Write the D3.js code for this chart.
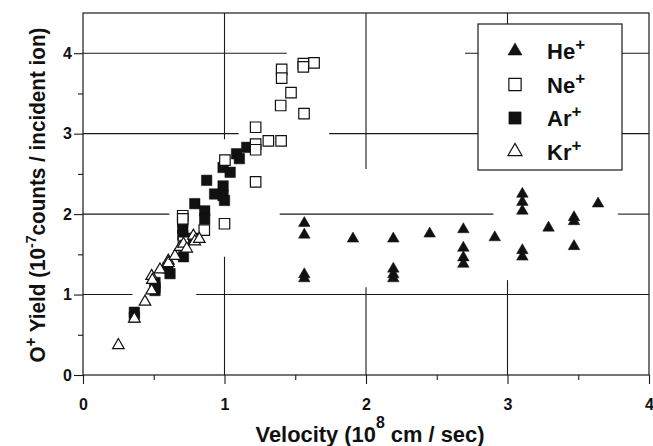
<!DOCTYPE html>
<html>
<head>
<meta charset="utf-8">
<script src="https://cdn.jsdelivr.net/npm/d3@7/dist/d3.min.js"></script>
<style>
body { margin: 0; background: #fff; }
text { font-family: "Liberation Sans Narrow", "Liberation Sans", Arial, sans-serif; font-weight: bold; fill: #111; }
</style>
</head>
<body>
<div id="chart"></div>
<script>
// velocity (10^8 cm/s), O+ yield (10^-7 counts / incident ion)
let heData = [[1.564, 1.887], [1.564, 1.743], [1.564, 1.25], [1.564, 1.20], [1.908, 1.694],
    [2.193, 1.694], [2.193, 1.32], [2.193, 1.25], [2.193, 1.20], [2.45, 1.756],
    [2.688, 1.81], [2.688, 1.58], [2.688, 1.46], [2.688, 1.38], [2.91, 1.71],
    [3.105, 2.25], [3.105, 2.15], [3.105, 2.04], [3.105, 1.55], [3.105, 1.47],
    [3.29, 1.83], [3.47, 1.96], [3.47, 1.91], [3.47, 1.60], [3.64, 2.13]];
let neData = [[1.404, 3.80], [1.404, 3.69], [1.557, 3.87], [1.557, 3.83], [1.633, 3.88],
    [1.47, 3.51], [1.397, 3.35], [1.562, 3.25], [1.22, 3.08], [1.31, 2.91], [1.40, 2.91],
    [1.22, 2.87], [1.22, 2.80], [1.22, 2.40], [1.003, 2.67], [1.0, 1.88], [0.857, 1.80],
    [0.705, 1.98], [0.705, 1.94], [0.71, 1.65]];
let arData = [[0.363, 0.78], [0.363, 0.72], [0.509, 1.09], [0.509, 1.05], [0.509, 1.15],
    [0.615, 1.26], [0.705, 1.90], [0.705, 1.82], [0.705, 1.74], [0.71, 1.47], [0.79, 2.13],
    [0.86, 2.04], [0.86, 1.94], [0.874, 2.42], [0.93, 2.25], [0.99, 2.35], [0.99, 2.23],
    [1.0, 2.17], [0.99, 2.58], [1.04, 2.52], [1.085, 2.75], [1.105, 2.69], [1.157, 2.83],
    [0.60, 1.33], [0.78, 1.70]];
let krData = [[0.25, 0.37], [0.363, 0.70], [0.438, 0.91], [0.485, 1.05], [0.485, 1.23],
    [0.49, 1.18], [0.544, 1.31], [0.603, 1.42], [0.603, 1.39], [0.65, 1.48], [0.686, 1.59],
    [0.71, 1.63], [0.733, 1.57], [0.78, 1.73], [0.79, 1.66], [0.822, 1.69]];

let xTicks = [0, 1, 2, 3, 4];
let yTicks = [0, 1, 2, 3, 4];
let xMinor = [0.5, 1.5, 2.5, 3.5];
let yMinor = [0.5, 1.5, 2.5, 3.5];

let legendItems = [
    {name: "He", data: heData, shape: d3.symbolTriangle, filled: true},
    {name: "Ne", data: neData, shape: d3.symbolSquare, filled: false},
    {name: "Ar", data: arData, shape: d3.symbolSquare, filled: true},
    {name: "Kr", data: krData, shape: d3.symbolTriangle, filled: false}
];

// broken grid lines of the original figure, in data units
let hGrid = [
    {y: 1, from: [[0, 0.35], [0.80, 4]]},
    {y: 2, from: [[0, 0.61], [1.39, 2.9], [3.78, 4]]},
    {y: 3, from: [[0, 1.10], [1.74, 4]]},
    {y: 4, from: [[0, 1.44], [2.7, 4]]}
];
let vGrid = [
    {x: 1, from: [[4.5, 2.93], [1.47, 0]]},
    {x: 2, from: [[4.5, 2.56], [1.09, 0]]},
    {x: 3, from: [[4.5, 2.6], [1.18, 0]]}
];

let margin = {top: 13, right: 4, bottom: 71, left: 83},
    width = 653 - margin.left - margin.right,
    height = 446 - margin.top - margin.bottom;

let svg = d3.select("#chart").append("svg")
    .attr("width", 653)
    .attr("height", 446)
    .append("g")
    .attr("transform", "translate(" + margin.left + "," + margin.top + ")");

let xScale = d3.scaleLinear().domain([0, 4]).range([0, width]);
let yScale = d3.scaleLinear().domain([0, 4.5]).range([height, 0]);

let lineColor = "#1a1a1a";

// grid
hGrid.forEach((g) => {
    g.from.forEach((s) => {
        svg.append("line")
            .attr("x1", xScale(s[0])).attr("x2", xScale(s[1]))
            .attr("y1", yScale(g.y)).attr("y2", yScale(g.y))
            .attr("stroke", lineColor).attr("stroke-width", 1.1);
    });
});
vGrid.forEach((g) => {
    g.from.forEach((s) => {
        svg.append("line")
            .attr("x1", xScale(g.x)).attr("x2", xScale(g.x))
            .attr("y1", yScale(s[0])).attr("y2", yScale(s[1]))
            .attr("stroke", lineColor).attr("stroke-width", 1.1);
    });
});

// frame
svg.append("rect")
    .attr("width", width).attr("height", height)
    .attr("fill", "none").attr("stroke", lineColor).attr("stroke-width", 1.2);

// axes
let xAxis = svg.append("g")
    .attr("transform", "translate(0," + height + ")")
    .call(d3.axisBottom(xScale).tickValues(xTicks).tickSize(9).tickPadding(15).tickFormat(d3.format("d")));
let xAxisMinor = svg.append("g")
    .attr("transform", "translate(0," + height + ")")
    .call(d3.axisBottom(xScale).tickValues(xMinor).tickSize(5).tickFormat(""));
let yAxis = svg.append("g")
    .call(d3.axisLeft(yScale).tickValues(yTicks).tickSize(9).tickPadding(2).tickFormat(d3.format("d")));
let yAxisMinor = svg.append("g")
    .call(d3.axisLeft(yScale).tickValues(yMinor).tickSize(5).tickFormat(""));

[xAxis, xAxisMinor, yAxis, yAxisMinor].forEach((a) => {
    a.select(".domain").remove();
    a.selectAll("line").attr("stroke", lineColor).attr("stroke-width", 1.1);
    a.selectAll("text").style("font-size", "16px").attr("fill", "#111");
});

// points
let drawOrder = [legendItems[2], legendItems[1], legendItems[3], legendItems[0]];
drawOrder.forEach((s) => {
    let size = s.shape === d3.symbolSquare ? 110 : 58;
    svg.append("g")
        .selectAll("path")
        .data(s.data)
        .enter()
        .append("path")
        .attr("d", d3.symbol().type(s.shape).size(size))
        .attr("transform", (d) => "translate(" + xScale(d[0]) + "," + yScale(d[1]) + ")")
        .attr("fill", s.filled ? "#111" : "#fff")
        .attr("stroke", "#111")
        .attr("stroke-width", s.filled ? 0.5 : 1.2);
});

// legend
let legend = svg.append("g").attr("transform", "translate(" + (478 - margin.left) + "," + (24 - margin.top) + ")");
legend.append("rect")
    .attr("width", 144).attr("height", 146)
    .attr("fill", "#fff").attr("stroke", lineColor).attr("stroke-width", 1.2);

legendItems.forEach((s, i) => {
    let cy = 27 + i * 33.5;
    let size = s.shape === d3.symbolSquare ? 150 : 85;
    legend.append("path")
        .attr("d", d3.symbol().type(s.shape).size(size))
        .attr("transform", "translate(37," + cy + ")")
        .attr("fill", s.filled ? "#111" : "#fff")
        .attr("stroke", "#111")
        .attr("stroke-width", s.filled ? 0.5 : 1.2);
    let t = legend.append("text")
        .attr("x", 69).attr("y", cy + 8)
        .style("font-size", "22px")
        .text(s.name);
    t.append("tspan").attr("dy", -9).style("font-size", "17px").text("+");
});

// axis titles
let xTitle = svg.append("text")
    .attr("x", width / 2 + 4).attr("y", 442 - margin.top)
    .attr("text-anchor", "middle")
    .attr("textLength", 229)
    .attr("lengthAdjust", "spacingAndGlyphs")
    .style("font-size", "22px")
    .text("Velocity (10");
xTitle.append("tspan").attr("dy", -14).style("font-size", "16px").text("8");
xTitle.append("tspan").attr("dy", 14).text(" cm / sec)");

let yTitle = svg.append("text")
    .attr("transform", "translate(" + (45 - margin.left) + "," + (195 - margin.top) + ") rotate(-90)")
    .attr("text-anchor", "middle")
    .attr("textLength", 335)
    .attr("lengthAdjust", "spacingAndGlyphs")
    .style("font-size", "22px")
    .text("O");
yTitle.append("tspan").attr("dy", -9).style("font-size", "16px").text("+");
yTitle.append("tspan").attr("dy", 9).text(" Yield (10");
yTitle.append("tspan").attr("dy", -9).style("font-size", "15px").text("-7");
yTitle.append("tspan").attr("dy", 9).text("counts / incident ion)");
</script>
</body>
</html>
